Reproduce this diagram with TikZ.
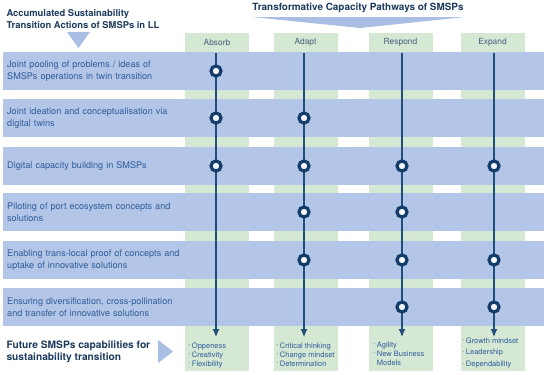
\documentclass[tikz,border=0pt]{standalone}
\usepackage{fontspec}
\setmainfont{TeX Gyre Heros}
\usetikzlibrary{arrows.meta}

\definecolor{rowblue}{HTML}{B4C6E7}
\definecolor{colgreen}{HTML}{D5E8D4}
\definecolor{wedgeblue}{HTML}{A9BEE2}
\definecolor{linenavy}{HTML}{1F4E79}
\definecolor{dotnavy}{HTML}{123C69}
\definecolor{textblue}{HTML}{2E5C9A}
\definecolor{titlenavy}{HTML}{1B3A5C}

\newcommand{\skdot}{\raisebox{0.3ex}{\fontsize{4}{4}\selectfont\textbullet}\hspace{2pt}}

\tikzset{
  rowbox/.style={fill=rowblue, anchor=west, minimum height=38pt, text width=533pt,
    inner xsep=4pt, align=left, text=textblue, font=\fontsize{9.1}{12}\selectfont},
  colbox/.style={fill=colgreen, anchor=north, minimum width=64pt, minimum height=338pt, inner sep=0pt},
  colhead/.style={text=titlenavy!80, font=\fontsize{8.4}{9}\selectfont},
  title/.style={anchor=west, align=left, text=titlenavy, font=\fontsize{9.4}{11.5}\selectfont\bfseries},
  flow/.style={draw=linenavy, line width=1.3pt, -{Latex[length=8pt,width=7pt]}},
  ring/.style={circle, draw=dotnavy, line width=3.2pt, fill=white!85!rowblue, inner sep=0pt, minimum size=10pt},
  skills/.style={anchor=north west, align=left, text=textblue, font=\fontsize{7.5}{9}\selectfont}
}

\begin{document}
\begin{tikzpicture}[x=1pt, y=-1pt]
    \useasboundingbox (0,0) rectangle (550,375);

    % 1. titulos y cunas
    \node[title] (leftTitle) at (3,19) {Accumulated Sustainability\\Transition Actions of SMSPs in LL};
    \node[title, anchor=center, font=\fontsize{9.9}{12}\selectfont\bfseries] (rightTitle) at (358,8) {Transformative Capacity Pathways of SMSPs};
    \fill[wedgeblue] (67,32) -- (90,32) -- (78.5,48) -- cycle;
    \fill[wedgeblue] (252,17) -- (465,17) -- (360,28) -- cycle;

    % 2. columnas verdes
    \node[colbox] (absorb) at (217,33) {};
    \node[colbox] (adapt) at (305.5,33) {};
    \node[colbox] (respond) at (400.5,33) {};
    \node[colbox] (expand) at (492.5,33) {};
    \node[colhead] (hAbsorb) at (217,42.5) {Absorb};
    \node[colhead] (hAdapt) at (305.5,42.5) {Adapt};
    \node[colhead] (hRespond) at (400.5,42.5) {Respond};
    \node[colhead] (hExpand) at (492.5,42.5) {Expand};

    % 3. filas azules
    \node[rowbox] (row1) at (3,71) {Joint pooling of problems / ideas of\\SMSPs operations in twin transition};
    \node[rowbox] (row2) at (3,118) {Joint ideation and conceptualisation via\\digital twins};
    \node[rowbox] (row3) at (3,166) {Digital capacity building in SMSPs};
    \node[rowbox] (row4) at (3,212) {Piloting of port ecosystem concepts and\\solutions};
    \node[rowbox] (row5) at (3,260) {Enabling trans-local proof of concepts and\\uptake of innovative solutions};
    \node[rowbox] (row6) at (3,307) {Ensuring diversification, cross-pollination\\and transfer of innovative solutions};

    % 4. flechas verticales
    \coordinate (aTop) at (216,53);  \coordinate (aEnd) at (216,337);
    \coordinate (dTop) at (304,53);  \coordinate (dEnd) at (304,337);
    \coordinate (rTop) at (402,53);  \coordinate (rEnd) at (402,337);
    \coordinate (eTop) at (494,53);  \coordinate (eEnd) at (494,337);
    \draw[flow] (aTop) -- (aEnd);
    \draw[flow] (dTop) -- (dEnd);
    \draw[flow] (rTop) -- (rEnd);
    \draw[flow] (eTop) -- (eEnd);

    % 5. circulos
    \node[ring] (a1) at (aTop |- row1) {};
    \node[ring] (a2) at (aTop |- row2) {};
    \node[ring] (a3) at (aTop |- row3) {};
    \node[ring] (d2) at (dTop |- row2) {};
    \node[ring] (d3) at (dTop |- row3) {};
    \node[ring] (d4) at (dTop |- row4) {};
    \node[ring] (d5) at (dTop |- row5) {};
    \node[ring] (r3) at (rTop |- row3) {};
    \node[ring] (r4) at (rTop |- row4) {};
    \node[ring] (r5) at (rTop |- row5) {};
    \node[ring] (r6) at (rTop |- row6) {};
    \node[ring] (e3) at (eTop |- row3) {};
    \node[ring] (e5) at (eTop |- row5) {};
    \node[ring] (e6) at (eTop |- row6) {};

    % 6. capacidades futuras
    \node[title, font=\fontsize{10.2}{12}\selectfont\bfseries] (future) at (3,352) {Future SMSPs capabilities for\\sustainability transition};
    \fill[wedgeblue] (158,340) -- (173,351.5) -- (158,363) -- cycle;
    \node[skills] (sAbsorb) at (185,339) {\skdot Oppeness\\\skdot Creativity\\\skdot Flexibility};
    \node[skills] (sAdapt) at (273,339) {\skdot Critical thinking\\\skdot Change mindset\\\skdot Determination};
    \node[skills] (sRespond) at (370,338) {\skdot Agility\\\skdot New Business\\\phantom{\skdot}Models};
    \node[skills, font=\fontsize{7.5}{11.7}\selectfont] (sExpand) at (459,334) {\skdot Growth mindset\\\skdot Leadership\\\skdot Dependability};

\end{tikzpicture}
\end{document}
